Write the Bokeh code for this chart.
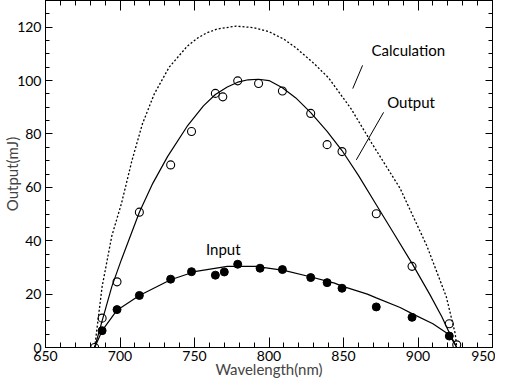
from bokeh.plotting import figure
from bokeh.models import Range1d, LinearAxis, SingleIntervalTicker, CustomJSTickFormatter
from bokeh.core.properties import value
from bokeh.embed import file_html
from bokeh.resources import INLINE

# ---- data ----
# measured output energy (open circles)
out_wl = [683, 688, 698, 713, 734, 748, 764, 769, 779, 793, 809, 828, 839, 849, 872, 896, 921, 926]
out_mj = [0, 11, 24.6, 50.7, 68.4, 80.9, 95.2, 93.9, 99.9, 98.9, 96.1, 87.7, 76, 73.4, 50.1, 30.4, 8.9, 1]

# measured input energy (filled circles)
in_wl = [688, 698, 713, 734, 748, 764, 770, 779, 794, 809, 828, 839, 849, 872, 896, 921]
in_mj = [6.3, 14.2, 19.5, 25.6, 28.4, 27.1, 28.3, 31.2, 29.7, 29.2, 26.2, 24.3, 22.2, 15.2, 11.3, 4.3]

# fitted output curve (solid)
outfit_wl = [683, 688, 694.5, 701, 713, 722, 732, 745, 756, 764, 772, 779, 786, 793, 800, 809, 818, 828,
             839, 849, 860, 872, 884, 896, 908, 916, 921, 926]
outfit_mj = [0, 10, 22.8, 33, 50.7, 61.5, 71.6, 82.8, 90.5, 94.8, 97.6, 99.4, 100.3, 100.5, 100, 97.3, 93.5, 88,
             81, 73.8, 64.5, 53.5, 42.5, 31.5, 19.8, 11.5, 5.5, 0]

# fitted input curve (solid)
infit_wl = [683, 688, 698, 713, 734, 750, 772, 791, 810, 827, 844, 849, 866, 872, 888, 896, 910, 921, 926]
infit_mj = [0, 6.3, 14, 19.5, 25.4, 28.4, 30.4, 30.4, 28.9, 26.6, 24.1, 23, 20, 18.6, 15, 12.7, 8.9, 4.8, 0]

# calculation curve (dotted)
calc_wl = [683, 688, 694.5, 701, 708, 715, 723, 733, 745, 752, 758, 765, 778, 790, 800, 810, 818, 830,
           840, 855, 869, 888, 906, 919, 925, 926]
calc_mj = [0, 22.8, 41.8, 54, 70, 83.7, 95, 105, 112.8, 115.9, 117.8, 119.3, 120.4, 119.8, 118.3, 115.5, 112.3, 106.5,
           101, 89.5, 76.5, 59.6, 38, 19, 5.1, 0]

# annotation texts and pointers
ann_text = ["Calculation", "Output", "Input"]
ann_x = [868.8, 879.3, 757.7]
ann_y = [111.4, 91.9, 36.9]
ptr_x0 = [862.8, 876.9]
ptr_y0 = [105.7, 88.1]
ptr_x1 = [856.2, 858.6]
ptr_y1 = [97.0, 70.3]

X_TITLE = "Wavelength(nm)"
Y_TITLE = "Output(mJ)"
X_RANGE = (650, 950)
Y_RANGE = (0, 130)

TICK_FONT = "Lato"
TEXT_FONT = "Lato"

p = figure(width=495, height=380, x_range=Range1d(*X_RANGE), y_range=Range1d(*Y_RANGE),
           output_backend="svg", toolbar_location=None,
           min_border_left=38, min_border_right=3, min_border_top=0, min_border_bottom=0)
p.grid.visible = False
p.outline_line_color = "black"
p.outline_line_width = 1
p.background_fill_color = "white"
p.border_fill_color = "white"

xt = SingleIntervalTicker(interval=50, num_minor_ticks=5)
yt = SingleIntervalTicker(interval=20, num_minor_ticks=4)


def style(ax, ticker, tin, mtin, labels=True):
    ax.ticker = ticker
    ax.axis_line_color = "black"
    ax.major_tick_line_color = "black"
    ax.minor_tick_line_color = "black"
    ax.major_tick_in = tin
    ax.major_tick_out = 0
    ax.minor_tick_in = mtin
    ax.minor_tick_out = 0
    if labels:
        ax.major_label_text_font = TICK_FONT
        ax.major_label_text_font_size = "14px"
        ax.major_label_text_color = "black"
    else:
        ax.formatter = CustomJSTickFormatter(code="return ''")
        ax.major_label_text_font_size = "1px"
        ax.major_label_standoff = 0


bx = p.xaxis[0]
style(bx, xt, 10, 5)
bx.major_label_standoff = 3
bx.axis_label = X_TITLE
bx.axis_label_text_font = TEXT_FONT
bx.axis_label_text_font_size = "15px"
bx.axis_label_text_font_style = "normal"
bx.axis_label_standoff = -4

ly = p.yaxis[0]
style(ly, yt, 7, 4)
ly.axis_label = Y_TITLE
ly.axis_label_text_font = TEXT_FONT
ly.axis_label_text_font_size = "15px"
ly.axis_label_text_font_style = "normal"
ly.axis_label_standoff = -7
ly.major_label_standoff = 4

top = LinearAxis()
style(top, SingleIntervalTicker(interval=50, num_minor_ticks=5), 10, 5, labels=False)
p.add_layout(top, "above")

right = LinearAxis()
style(right, SingleIntervalTicker(interval=20, num_minor_ticks=4), 7, 4, labels=False)
p.add_layout(right, "right")

# curves
p.line(calc_wl, calc_mj, line_color="black", line_width=1.3, line_dash="2 2")
p.line(outfit_wl, outfit_mj, line_color="black", line_width=1.2)
p.line(infit_wl, infit_mj, line_color="black", line_width=1.2)

# points
p.scatter(out_wl, out_mj, marker="circle", size=8, fill_color=None, line_color="black", line_width=1.1)
p.scatter(in_wl, in_mj, marker="circle", size=8, fill_color="black", line_color="black")

# annotations
p.text(ann_x, ann_y, text=ann_text, text_font=value(TEXT_FONT), text_font_size="15px",
       text_align="left", text_baseline="middle", text_color="black")
p.segment(ptr_x0, ptr_y0, ptr_x1, ptr_y1, line_color="black", line_width=1)

open("out.html", "w").write(file_html(p, INLINE))
